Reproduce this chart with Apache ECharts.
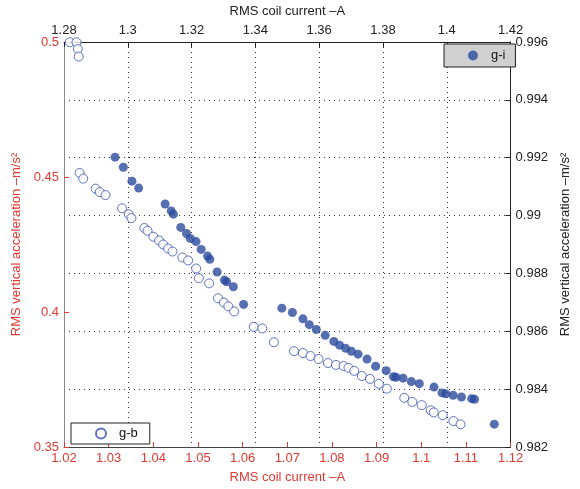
<!DOCTYPE html>
<html>
<head>
<meta charset="utf-8">
<script src="https://cdn.jsdelivr.net/npm/echarts@6/dist/echarts.min.js"></script>
<style>
  html, body { margin: 0; padding: 0; background: #fff; }
  #main { width: 580px; height: 489px; }
</style>
</head>
<body>
<div id="main"></div>
<script>
// g-b: bottom / left axes (hollow circles)
var gbCurrent = [1.0213, 1.0228, 1.0231, 1.0233, 1.0235, 1.0243, 1.0271, 1.0280, 1.0293, 1.0330,
    1.0345, 1.0351, 1.0380, 1.0387, 1.0400, 1.0413, 1.0422, 1.0433, 1.0443, 1.0465,
    1.0478, 1.0496, 1.0502, 1.0525, 1.0545, 1.0558, 1.0568, 1.0581, 1.0625, 1.0644,
    1.0670, 1.0715, 1.0735, 1.0752, 1.0770, 1.0791, 1.0809, 1.0826, 1.0837, 1.0850,
    1.0867, 1.0885, 1.0905, 1.0923, 1.0962, 1.0980, 1.1001, 1.1021, 1.1028, 1.1048,
    1.1072, 1.1088];
var gbAccel = [0.4999, 0.4999, 0.4974, 0.4946, 0.4515, 0.4494, 0.4457, 0.4444, 0.4433, 0.4384,
    0.4362, 0.4348, 0.4311, 0.4301, 0.4279, 0.4265, 0.4250, 0.4235, 0.4224, 0.4202,
    0.4191, 0.4161, 0.4125, 0.4106, 0.4051, 0.4035, 0.4021, 0.4002, 0.3945, 0.3939,
    0.3888, 0.3855, 0.3848, 0.3837, 0.3826, 0.3811, 0.3804, 0.3800, 0.3793, 0.3782,
    0.3763, 0.3752, 0.3734, 0.3716, 0.3682, 0.3667, 0.3655, 0.3636, 0.3628, 0.3618,
    0.3596, 0.3584];

// g-i: top / right axes (filled circles)
var giCurrent = [1.2960, 1.2986, 1.3013, 1.3034, 1.3117, 1.3136, 1.3143, 1.3166, 1.3184, 1.3196,
    1.3214, 1.3230, 1.3250, 1.3257, 1.3280, 1.3303, 1.3310, 1.3331, 1.3363, 1.3483,
    1.3516, 1.3549, 1.3569, 1.3591, 1.3619, 1.3646, 1.3664, 1.3683, 1.3701, 1.3722,
    1.3750, 1.3777, 1.3810, 1.3833, 1.3841, 1.3863, 1.3889, 1.3914, 1.3960, 1.3985,
    1.3997, 1.4020, 1.4046, 1.4078, 1.4087, 1.4149];
var giAccel = [0.99202, 0.99167, 0.99119, 0.99095, 0.99040, 0.99016, 0.99005, 0.98959, 0.98938, 0.98921,
    0.98910, 0.98883, 0.98860, 0.98849, 0.98805, 0.98777, 0.98771, 0.98754, 0.98693, 0.98680,
    0.98665, 0.98643, 0.98623, 0.98606, 0.98586, 0.98565, 0.98552, 0.98541, 0.98531, 0.98521,
    0.98504, 0.98479, 0.98464, 0.98443, 0.98441, 0.98438, 0.98426, 0.98419, 0.98407, 0.98387,
    0.98384, 0.98379, 0.98373, 0.98367, 0.98365, 0.98279];

var RED = '#e03a32';
var DARK = '#222';
var BLUE = '#2b4b9e';
var FONT = 'Liberation Sans';

function pairs(xs, ys) {
    var out = [];
    for (var i = 0; i < xs.length; i++) out.push([xs[i], ys[i]]);
    return out;
}
function trim(d) {
    return function (v) { return String(parseFloat(v.toFixed(d))); };
}

var chart = echarts.init(document.getElementById('main'));

var option = {
    animation: false,
    grid: { left: 64, right: 56, top: 39, bottom: 40 },
    legend: [
        {
            data: ['g-i'],
            left: 444, top: 44,
            width: 74,
            padding: [5, 10, 5, 24],
            itemWidth: 10, itemHeight: 10,
            itemGap: 0,
            backgroundColor: '#d0d0d0',
            borderColor: '#222', borderWidth: 1,
            textStyle: { color: '#111', fontSize: 13, fontFamily: FONT, padding: [0, 0, 0, 8] }
        },
        {
            data: ['g-b'],
            left: 71, top: 423,
            padding: [4, 12, 4, 24],
            itemWidth: 10, itemHeight: 10,
            backgroundColor: '#fff',
            borderColor: '#222', borderWidth: 1,
            textStyle: { color: '#111', fontSize: 13, fontFamily: FONT, padding: [0, 0, 0, 8] }
        }
    ],
    xAxis: [
        {
            type: 'value', position: 'bottom',
            min: 1.02, max: 1.12, interval: 0.01,
            name: 'RMS coil current \u2013A', nameLocation: 'middle', nameGap: 24,
            nameTextStyle: { color: RED, fontSize: 13, fontFamily: FONT },
            axisLine: { onZero: false, lineStyle: { color: '#444' } },
            axisTick: { inside: true, length: 5, lineStyle: { color: RED } },
            axisLabel: { color: RED, fontSize: 13, fontFamily: FONT, margin: 5, formatter: trim(2) },
            splitLine: { show: false }
        },
        {
            type: 'value', position: 'top',
            min: 1.28, max: 1.42, interval: 0.02,
            name: 'RMS coil current \u2013A', nameLocation: 'middle', nameGap: 24,
            nameTextStyle: { color: DARK, fontSize: 13, fontFamily: FONT },
            axisLine: { onZero: false, lineStyle: { color: DARK } },
            axisTick: { inside: true, length: 5, lineStyle: { color: DARK } },
            axisLabel: { color: DARK, fontSize: 13, fontFamily: FONT, margin: 5, formatter: trim(2) },
            splitLine: { show: true, lineStyle: { color: '#333', type: [1, 4], width: 1 } }
        }
    ],
    yAxis: [
        {
            type: 'value', position: 'left',
            min: 0.35, max: 0.5, interval: 0.05,
            name: 'RMS vertical acceleration \u2013m/s\u00b2', nameLocation: 'middle', nameGap: 34,
            nameTextStyle: { color: RED, fontSize: 13, fontFamily: FONT },
            axisLine: { onZero: false, lineStyle: { color: '#888' } },
            axisTick: { inside: true, length: 5, lineStyle: { color: RED } },
            axisLabel: { color: RED, fontSize: 13, fontFamily: FONT, margin: 5, formatter: trim(2) },
            splitLine: { show: false }
        },
        {
            type: 'value', position: 'right',
            min: 0.982, max: 0.996, interval: 0.002,
            name: 'RMS vertical acceleration \u2013m/s\u00b2', nameLocation: 'middle', nameGap: 42,
            nameRotate: 90,
            nameTextStyle: { color: DARK, fontSize: 13, fontFamily: FONT },
            axisLine: { onZero: false, lineStyle: { color: DARK } },
            axisTick: { inside: true, length: 5, lineStyle: { color: DARK } },
            axisLabel: { color: DARK, fontSize: 13, fontFamily: FONT, margin: 5, formatter: trim(3) },
            splitLine: { show: true, lineStyle: { color: '#333', type: [1, 4], width: 1 } }
        }
    ],
    series: [
        {
            name: 'g-b', type: 'scatter',
            xAxisIndex: 0, yAxisIndex: 0,
            symbol: 'circle', symbolSize: 9,
            itemStyle: { color: '#fff', borderColor: '#3a50b0', borderWidth: 1 },
            data: pairs(gbCurrent, gbAccel)
        },
        {
            name: 'g-i', type: 'scatter',
            xAxisIndex: 1, yAxisIndex: 1,
            symbol: 'circle', symbolSize: 9,
            itemStyle: { color: BLUE },
            data: pairs(giCurrent, giAccel)
        }
    ]
};

chart.setOption(option);
</script>
</body>
</html>
